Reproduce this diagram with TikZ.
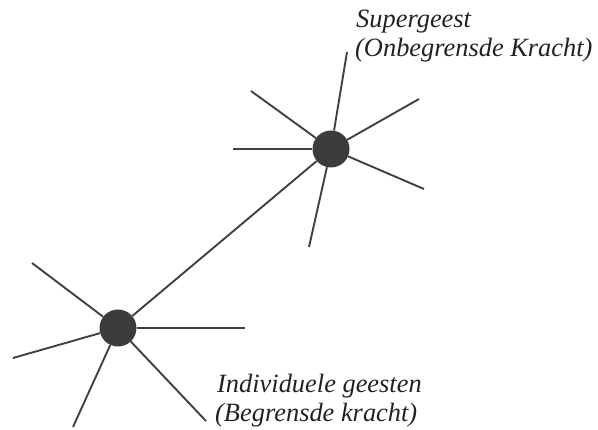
\documentclass[tikz,border=0pt]{standalone}
\usepackage{fontspec}
\newfontfamily\lblfont{Liberation Serif Italic}
\begin{document}
\begin{tikzpicture}[x=1pt,y=-1pt,
  hub/.style={circle,fill=hubgray,draw=none,minimum size=37pt,inner sep=0pt},
  spoke/.style={draw=linegray,line width=1.9pt},
  lbl/.style={anchor=base west,inner sep=0pt,font=\lblfont\fontsize{26.4}{29}\selectfont,text=textgray}]
\definecolor{hubgray}{HTML}{3C3C3C}
\definecolor{linegray}{HTML}{404040}
\definecolor{textgray}{HTML}{222222}
\useasboundingbox (0,0) rectangle (598,430);
% hubs
\node[hub] (S) at (331,149) {};
\node[hub] (I) at (118,328) {};
% spoke ends, upper hub
\coordinate (s1) at (347,52);
\coordinate (s2) at (251,91);
\coordinate (s3) at (233,149);
\coordinate (s4) at (309,247);
\coordinate (s5) at (424,189);
\coordinate (s6) at (419,99);
% spoke ends, lower hub
\coordinate (i1) at (32,263);
\coordinate (i2) at (245,328);
\coordinate (i3) at (13,358);
\coordinate (i4) at (73,427);
\coordinate (i5) at (206,421);
\foreach \e in {s1,s2,s3,s4,s5,s6} \draw[spoke] (S) -- (\e);
\foreach \e in {i1,i2,i3,i4,i5} \draw[spoke] (I) -- (\e);
\draw[spoke] (I) -- (S);
% labels
\node[lbl] (sup1) at (356,28) {Supergeest};
\node[lbl] (sup2) at (355,57) {(Onbegrensde Kracht)};
\node[lbl] (ind1) at (217,393) {Individuele geesten};
\node[lbl] (ind2) at (215,422) {(Begrensde kracht)};
\end{tikzpicture}
\end{document}
